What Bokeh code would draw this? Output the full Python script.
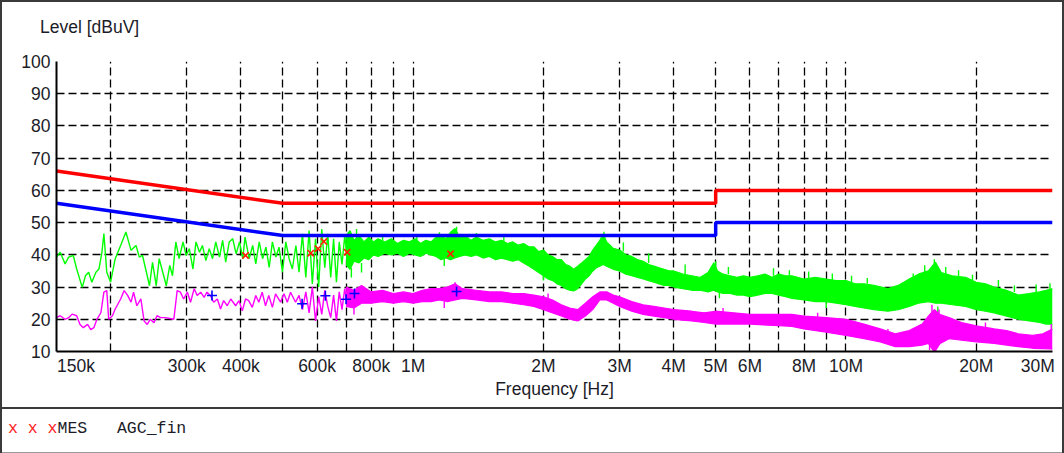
from bokeh.plotting import figure
from bokeh.models import FixedTicker, Div, Range1d
from bokeh.layouts import column
from bokeh.embed import file_html
from bokeh.resources import INLINE

# ---------------- data ----------------
# limit lines (frequency in kHz, level in dBuV)
limit_f = [150, 500, 5000, 5000, 30000]
qp_limit = [66, 56, 56, 60, 60]
av_limit = [56, 46, 46, 50, 50]

# peak trace, sparse part (kHz, dBuV)
pk_f = [150, 153, 157, 160, 164, 167, 172, 175, 178, 181, 185, 188, 191, 193, 196, 200,
        205, 211, 217, 223, 229, 233, 237, 242, 246, 250, 255, 259, 264, 269, 274, 278,
        283, 288, 294, 299, 304, 310, 315, 321, 326, 332, 338, 344, 350, 357, 363, 369,
        376, 383, 390, 397, 404, 409, 418, 426, 433, 441, 449, 457, 465, 473, 482, 490,
        499, 508, 517, 526, 536, 545, 555, 565, 575, 585, 595, 605, 615, 625, 635, 645,
        655, 665, 675, 685, 695, 705]
pk_lvl = [39.3, 40.8, 37.2, 39.3, 39.8, 35.6, 29.9, 33.5, 34.6, 31.5, 34.6, 35.6, 40.8, 46.6, 34.6, 31.5,
          38.8, 42.9, 47.1, 41.4, 42.9, 39.3, 39.8, 34.6, 30.4, 37.7, 30.4, 38.8, 34.6, 30.4, 36.7, 33.5,
          44.0, 38.8, 44.0, 39.8, 41.9, 35.6, 44.0, 40.8, 42.9, 38.2, 41.9, 38.8, 44.0, 39.3, 44.5, 37.7,
          44.0, 45.0, 40.3, 44.0, 38.8, 45.5, 38.8, 42.9, 37.2, 44.0, 38.8, 42.4, 36.1, 44.0, 39.3, 42.4,
          34.6, 44.0, 38.8, 35.6, 42.9, 34.6, 46.5, 33.0, 47.5, 31.0, 45.0, 30.0, 48.0, 36.0, 46.5, 33.0,
          45.0, 31.5, 44.0, 37.0, 46.0, 38.0]

# peak trace, dense part: band envelope (kHz, low, high)
pkb_f = [700, 715, 730, 750, 770, 790, 810, 830, 860, 890, 920, 950, 980, 1010, 1040, 1070,
         1100, 1130, 1160, 1190, 1220, 1250, 1280, 1320, 1360, 1400, 1450, 1500, 1550, 1600, 1650, 1700,
         1750, 1800, 1850, 1900, 1950, 2000, 2050, 2100, 2150, 2200, 2250, 2300, 2350, 2400, 2450, 2500,
         2550, 2600, 2650, 2700, 2750, 2800, 2850, 2900, 3000, 3100, 3200, 3300, 3400, 3500, 3600, 3700,
         3800, 3900, 4000, 4200, 4400, 4600, 4800, 4950, 5050, 5200, 5400, 5600, 5800, 6000, 6250, 6500,
         6750, 7000, 7250, 7500, 8000, 8500, 9000, 9500, 10000, 10500, 11000, 11600, 12500, 13200, 14000, 14700,
         15500, 16100, 16600, 17600, 18900, 20000, 21000, 22000, 23500, 25000, 26500, 28000, 29000, 30000]
pkb_lo = [37.0, 35.5, 38.0, 37.5, 39.0, 38.5, 40.0, 39.5, 40.5, 40.0, 40.5, 39.5, 40.5, 40.0, 39.5, 40.5,
          40.0, 39.5, 38.5, 39.0, 38.5, 39.0, 39.5, 40.0, 39.5, 40.0, 39.0, 39.5, 38.5, 39.0, 38.5, 38.0,
          38.5, 37.5, 36.5, 35.5, 34.5, 33.5, 32.5, 32.0, 31.0, 30.5, 29.5, 29.0, 28.8, 29.5, 31.0, 32.5,
          33.5, 35.0, 36.0, 36.5, 37.0, 36.5, 36.0, 35.5, 35.0, 34.0, 33.5, 33.0, 32.5, 32.0, 31.5, 31.0,
          30.5, 30.5, 30.0, 29.5, 29.0, 29.0, 28.5, 29.0, 28.5, 28.0, 28.0, 27.5, 27.5, 27.0, 27.5, 28.0,
          28.0, 27.5, 27.0, 26.5, 26.0, 25.5, 25.5, 25.0, 24.5, 24.0, 23.5, 23.0, 22.5, 23.0, 24.0, 25.0,
          25.5, 25.0, 25.0, 24.5, 24.0, 23.0, 22.5, 22.0, 21.0, 20.0, 19.5, 19.0, 18.5, 18.5]
pkb_hi = [46.0, 47.5, 44.5, 46.0, 44.0, 45.5, 44.0, 45.0, 44.0, 45.0, 43.5, 44.5, 44.0, 45.0, 43.5, 44.5,
          44.0, 45.5, 46.0, 45.0, 47.0, 48.2, 45.5, 46.0, 44.5, 45.5, 44.5, 45.0, 44.0, 44.5, 43.5, 44.0,
          43.0, 43.5, 42.5, 42.5, 41.0, 41.5, 40.0, 39.5, 38.5, 38.5, 37.0, 36.5, 35.5, 36.5, 37.5, 38.5,
          39.5, 41.5, 43.0, 44.5, 46.5, 44.0, 43.0, 42.0, 41.5, 40.0, 39.5, 38.5, 38.0, 37.0, 36.5, 36.0,
          35.5, 35.0, 35.0, 34.0, 33.5, 33.0, 34.5, 37.5, 35.0, 34.0, 33.5, 33.0, 33.5, 33.0, 33.5, 34.0,
          33.0, 34.0, 33.5, 33.5, 32.5, 33.0, 32.5, 32.0, 32.0, 31.0, 31.0, 30.5, 29.5, 30.5, 32.5, 34.0,
          35.0, 37.7, 34.5, 33.5, 33.0, 31.5, 31.0, 30.0, 29.0, 27.5, 28.0, 28.5, 29.0, 29.5]

# peak trace: isolated spikes sticking out of the band (kHz, from, to)
pks_f = [740, 850, 1020, 1150, 1260, 1400, 1620, 2760, 3060, 3500, 4250, 5000, 5350, 6800, 7400,
         8200, 9300, 10300, 11200, 14300, 15200, 16000, 17000, 18200, 19600, 22500, 24500, 27500, 29600,
         720, 760, 1180, 2000, 5100, 9000, 16300, 29900]
pks_from = [44.0, 43.5, 44.0, 44.5, 45.0, 45.0, 44.0, 45.0, 41.0, 37.5, 34.0, 35.0, 34.0, 33.5, 33.5,
            32.5, 32.0, 31.5, 31.0, 32.0, 34.5, 36.0, 33.5, 33.0, 32.0, 30.0, 28.5, 28.0, 29.0,
            36.0, 37.5, 39.0, 34.0, 28.5, 25.5, 24.0, 18.5]
pks_to = [48.0, 46.5, 46.0, 47.0, 48.7, 46.8, 46.0, 47.2, 43.8, 40.5, 37.0, 38.0, 36.2, 35.8, 35.2,
          34.8, 34.2, 33.5, 32.8, 34.2, 36.8, 38.6, 36.2, 35.2, 33.8, 32.2, 30.5, 30.8, 31.2,
          33.0, 34.5, 36.5, 32.0, 26.5, 23.5, 21.5, 16.5]

# average trace, sparse part (kHz, dBuV)
av_f = [150, 153, 157, 160, 163, 167, 170, 173, 177, 180, 183, 186, 190, 193, 196, 198,
        202, 205, 211, 215, 219, 223, 226, 230, 235, 239, 243, 247, 252, 256, 261, 268,
        280, 285, 290, 295, 301, 306, 312, 317, 323, 329, 334, 340, 346, 353, 359, 365,
        372, 379, 389, 396, 403, 410, 417, 425, 433, 440, 448, 456, 464, 473, 481, 494,
        503, 512, 521, 535, 545, 555, 565, 575, 585, 595, 605, 615, 625, 635, 645, 655,
        665, 675, 685, 695, 705]
av_lvl = [20.5, 21.1, 20.0, 20.5, 21.6, 21.1, 18.4, 17.4, 18.4, 16.8, 17.4, 20.0, 22.1, 28.4, 28.9, 20.0,
          21.1, 23.2, 26.3, 28.9, 27.4, 25.3, 28.4, 24.2, 26.3, 19.5, 18.4, 20.0, 18.9, 21.1, 20.5, 20.5,
          20.0, 28.9, 28.4, 26.3, 28.4, 25.3, 29.5, 27.4, 28.4, 26.8, 28.4, 27.4, 25.3, 26.3, 23.2, 25.8,
          24.2, 26.3, 24.2, 25.8, 22.6, 26.3, 25.8, 23.7, 27.4, 25.3, 28.4, 24.2, 27.4, 23.7, 27.9, 25.3,
          27.9, 25.3, 28.4, 25.3, 27.4, 23.0, 28.5, 22.0, 30.0, 19.5, 27.0, 21.5, 29.0, 24.0, 20.5, 27.5,
          19.5, 28.5, 23.0, 29.5, 24.5]

# average trace, dense part: band envelope (kHz, low, high)
avb_f = [700, 730, 760, 800, 850, 900, 950, 1000, 1050, 1100, 1150, 1200, 1250, 1300, 1400, 1500,
         1600, 1700, 1800, 1900, 2000, 2100, 2200, 2300, 2400, 2500, 2600, 2700, 2800, 2900, 3000, 3200,
         3400, 3600, 3800, 4000, 4400, 4700, 5000, 5500, 6000, 7000, 7500, 8000, 9000, 10000, 11000, 12000,
         13000, 14000, 15000, 15500, 16000, 16500, 17300, 18500, 20000, 22000, 23500, 25000, 27000, 28500, 29500, 30000]
avb_lo = [24.0, 23.5, 25.0, 25.0, 25.5, 25.0, 25.5, 25.0, 25.5, 25.5, 26.0, 25.5, 26.0, 26.5, 26.0, 25.5,
          25.5, 25.0, 24.5, 24.0, 23.0, 22.0, 21.0, 20.0, 19.5, 21.0, 23.0, 26.0, 26.0, 25.0, 24.0, 22.5,
          21.5, 21.0, 20.5, 20.0, 19.5, 19.0, 18.5, 18.5, 18.5, 18.0, 17.8, 17.0, 16.0, 15.0, 14.0, 13.0,
          11.5, 11.5, 12.0, 12.5, 9.8, 12.5, 14.0, 13.5, 13.0, 12.5, 12.0, 11.5, 11.0, 10.9, 10.8, 10.7]
avb_hi = [30.0, 29.0, 30.5, 28.5, 29.0, 28.0, 28.5, 28.0, 29.0, 29.5, 29.5, 30.0, 31.0, 29.5, 29.0, 28.5,
          28.5, 28.0, 28.0, 27.5, 27.0, 26.0, 24.5, 23.5, 23.0, 25.0, 27.0, 28.5, 28.5, 27.5, 27.0, 25.5,
          24.5, 24.0, 23.5, 23.0, 22.5, 22.0, 22.5, 22.0, 21.5, 21.5, 21.5, 21.0, 20.5, 20.0, 18.5, 17.0,
          15.5, 16.5, 18.5, 21.0, 23.0, 21.5, 20.5, 19.0, 18.0, 17.0, 16.5, 15.5, 15.0, 15.5, 16.5, 17.0]

# average trace: isolated spikes (kHz, from, to)
avs_f = [730, 1180, 1250, 2050, 5200, 8600, 12500, 15600, 15800, 16100, 16400, 21000, 29800]
avs_from = [24.0, 25.5, 30.0, 26.5, 22.0, 20.5, 15.5, 13.0, 22.0, 11.0, 21.0, 17.5, 16.5]
avs_to = [21.5, 23.5, 31.5, 28.0, 23.5, 22.0, 17.0, 10.5, 24.5, 9.0, 23.0, 19.0, 18.5]

# final measurements
qp_f = [410, 580, 603, 622, 704, 1220]
qp_lvl = [39.8, 40.5, 41.9, 44.1, 40.8, 40.3]
av_mf = [343, 554, 627, 700, 732, 1260]
av_mlvl = [27.4, 24.8, 27.3, 26.2, 28.0, 28.6]

# axis ticks
x_label_ticks = [150, 300, 400, 600, 800, 1000, 2000, 3000, 4000, 5000, 6000, 8000, 10000, 20000, 30000]
x_label_text = ["150k", "300k", "400k", "600k", "800k", "1M", "2M", "3M", "4M", "5M", "6M", "8M",
                "10M", "20M", "30M"]
x_grid_ticks = [200, 300, 400, 500, 600, 700, 800, 900, 1000, 2000, 3000, 4000, 5000, 6000, 7000,
                8000, 9000, 10000, 20000, 30000]
y_ticks = [10, 20, 30, 40, 50, 60, 70, 80, 90, 100]
y_caption = "Level [dBuV]"

K = 1e3
def hz(a):
    return [v * K for v in a]

# the end labels sit flush with the frame edges (left-/right-aligned), done with no-break spaces
NB = "\u00a0"
x_label_shown = list(x_label_text)
x_label_shown[0] = NB * 8 + x_label_shown[0]
x_label_shown[-1] = x_label_shown[-1] + NB * 2

# ---------------- layout pieces ----------------
FONT = "Liberation Sans"
TXT = "#1c1c28"
FS = "17.5px"
EDGE = "#3a3a3a"

# top strip holding the y-axis caption (top-left, horizontal)
caption = Div(text="<div style='padding:17px 0 0 40px;font-family:\"Liberation Sans\",Arial,sans-serif;"
                   "font-size:17.5px;line-height:20px;color:#1c1c28;white-space:nowrap'>"
                   + y_caption + "</div>",
              width=1064, height=40, margin=0,
              styles={"background": "white",
                      "box-shadow": f"inset 2px 2px 0 {EDGE}, inset -2px 0 0 {EDGE}"})

p = figure(width=1064, height=369, x_axis_type="log", title=None,
           x_range=Range1d(150 * K, 30000 * K), y_range=Range1d(10, 100),
           output_backend="svg", toolbar_location=None,
           min_border_left=56, min_border_right=12, min_border_top=21, min_border_bottom=58,
           background_fill_color=None, border_fill_color=None,
           styles={"background": "white",
                   "box-shadow": f"inset 2px 0 0 {EDGE}, inset -2px -2px 0 {EDGE}"})
p.outline_line_color = None

# axes
for ax in (p.xaxis, p.yaxis):
    ax.major_tick_in = 0
    ax.major_tick_out = 0
    ax.minor_tick_in = 0
    ax.minor_tick_out = 0
    ax.axis_line_color = "black"
    ax.axis_line_width = 2
    ax.major_label_text_font = FONT
    ax.major_label_text_font_size = FS
    ax.major_label_text_color = TXT

p.xaxis.ticker = FixedTicker(ticks=hz(x_label_ticks))
p.xaxis.major_label_overrides = {float(t * K): s for t, s in zip(x_label_ticks, x_label_shown)}
p.xaxis.major_label_standoff = 4
p.xaxis.axis_label = "Frequency [Hz]"
p.xaxis.axis_label_text_font = FONT
p.xaxis.axis_label_text_font_size = FS
p.xaxis.axis_label_text_font_style = "normal"
p.xaxis.axis_label_text_color = TXT
p.xaxis.axis_label_standoff = 0

p.yaxis.ticker = FixedTicker(ticks=y_ticks)
p.yaxis.major_label_standoff = 6

# grids
p.xgrid.ticker = FixedTicker(ticks=hz(x_grid_ticks))
p.ygrid.ticker = FixedTicker(ticks=y_ticks[1:])
for g in (p.xgrid, p.ygrid):
    g.grid_line_color = "black"
    g.grid_line_width = 1.3
    g.grid_line_dash = "8 4"
    g.grid_line_alpha = 1.0

GREEN = "#00ff00"
MAG = "#ff00ff"

# peak trace
p.varea(x=hz(pkb_f), y1=pkb_lo, y2=pkb_hi, fill_color=GREEN)
p.line(hz(pkb_f), pkb_hi, line_color=GREEN, line_width=1.2)
p.line(hz(pkb_f), pkb_lo, line_color=GREEN, line_width=1.2)
p.segment(x0=hz(pks_f), y0=pks_from, x1=hz(pks_f), y1=pks_to, line_color=GREEN, line_width=1.4)
p.line(hz(pk_f), pk_lvl, line_color=GREEN, line_width=1.4)

# average trace
p.varea(x=hz(avb_f), y1=avb_lo, y2=avb_hi, fill_color=MAG)
p.line(hz(avb_f), avb_hi, line_color=MAG, line_width=1.2)
p.line(hz(avb_f), avb_lo, line_color=MAG, line_width=1.2)
p.segment(x0=hz(avs_f), y0=avs_from, x1=hz(avs_f), y1=avs_to, line_color=MAG, line_width=1.4)
p.line(hz(av_f), av_lvl, line_color=MAG, line_width=1.4)

# limits
p.line(hz(limit_f), qp_limit, line_color="#ff0000", line_width=3.5)
p.line(hz(limit_f), av_limit, line_color="#0000ff", line_width=3.5)

# final measurement markers
p.scatter(hz(qp_f), qp_lvl, marker="x", size=9, line_color="#ff2000", line_width=1.6)
p.scatter(hz(av_mf), av_mlvl, marker="cross", size=10, line_color="#0000ff", line_width=1.6)

legend = Div(text="<div style='padding:8px 0 0 8px;white-space:pre;"
                  "font-family:\"Liberation Mono\",monospace;font-size:16.5px;color:#1c1c28'>"
                  "<span style='color:#ff2020'>x x x</span>MES   AGC_fin</div>",
             width=1064, height=44, margin=0,
             styles={"box-shadow": f"inset 2px 0 0 {EDGE}, inset -2px 0 0 {EDGE}, inset 0 -1px 0 #999999",
                     "background": "white"})

layout = column(caption, p, legend, spacing=0)

open("out.html", "w").write(file_html(layout, INLINE))
